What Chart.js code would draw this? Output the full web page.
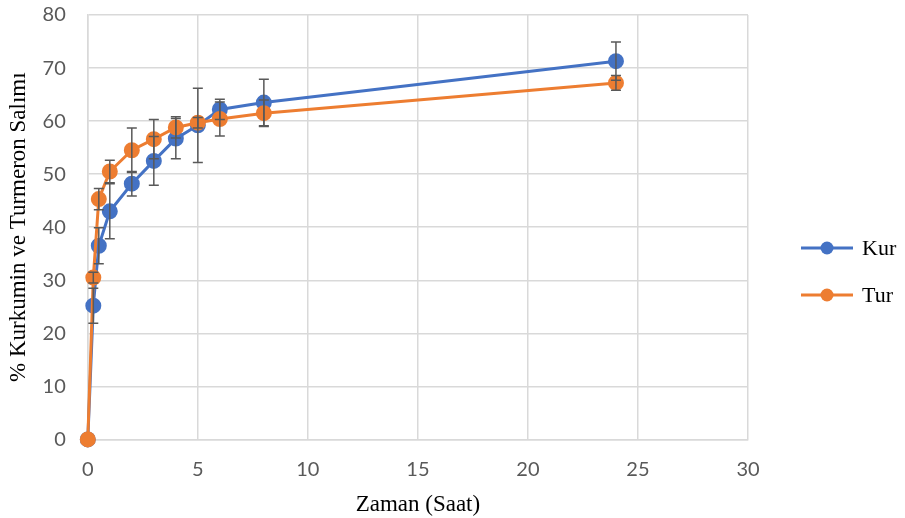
<!DOCTYPE html>
<html><head><meta charset="utf-8">
<script src="https://cdn.jsdelivr.net/npm/chart.js@4"></script>
<style>
html,body{margin:0;padding:0;background:#fff;}
#wrap{position:relative;width:905px;height:518px;}
#legend{position:absolute;left:800px;top:224px;font-family:"Liberation Serif","Times New Roman",serif;font-size:22px;color:#000;}
.item{display:flex;align-items:center;height:47px;}
.item svg{margin-right:8px;}
</style></head>
<body><div id="wrap"><canvas id="c" width="905" height="518"></canvas>
<div id="legend">
<div class="item"><svg width="54" height="16"><line x1="1" y1="8" x2="53" y2="8" stroke="#4472C4" stroke-width="3"/><circle cx="27" cy="8" r="6.5" fill="#4472C4"/></svg><span>Kur</span></div>
<div class="item"><svg width="54" height="16"><line x1="1" y1="8" x2="53" y2="8" stroke="#ED7D31" stroke-width="3"/><circle cx="27" cy="8" r="6.5" fill="#ED7D31"/></svg><span>Tur</span></div>
</div></div>
<script>
const times = [0, 0.25, 0.5, 1, 2, 3, 4, 5, 6, 8, 24];
const kurValues = [0, 25.2, 36.5, 43.0, 48.2, 52.5, 56.7, 59.2, 62.2, 63.5, 71.3];
const kurErrors = [0, 3.3, 3.4, 5.2, 2.3, 4.6, 3.8, 7.0, 1.9, 4.4, 3.6];
const turValues = [0, 30.5, 45.3, 50.5, 54.5, 56.6, 58.8, 59.7, 60.4, 61.5, 67.2];
const turErrors = [0, 1.0, 2.0, 2.1, 4.2, 3.7, 2.0, 1.0, 3.2, 2.5, 1.4];
const xTicks = [0, 5, 10, 15, 20, 25, 30];
const yTicks = [0, 10, 20, 30, 40, 50, 60, 70, 80];

const errorBarPlugin = {
  id: 'errorBars',
  afterDatasetsDraw(chart) {
    const ctx = chart.ctx;
    const xs = chart.scales.x, ys = chart.scales.y;
    chart.data.datasets.forEach(ds => {
      ctx.save();
      ctx.strokeStyle = '#595959';
      ctx.lineWidth = 1.5;
      ds.data.forEach((p, i) => {
        const e = ds.errors[i];
        if (!e) return;
        const px = xs.getPixelForValue(p.x);
        const top = ys.getPixelForValue(p.y + e);
        const bot = ys.getPixelForValue(p.y - e);
        ctx.beginPath();
        ctx.moveTo(px, top); ctx.lineTo(px, bot);
        ctx.moveTo(px - 5, top); ctx.lineTo(px + 5, top);
        ctx.moveTo(px - 5, bot); ctx.lineTo(px + 5, bot);
        ctx.stroke();
      });
      ctx.restore();
    });
  }
};

const mk = (vals) => times.map((t, i) => ({x: t, y: vals[i]}));

new Chart(document.getElementById('c'), {
  type: 'scatter',
  data: {
    datasets: [
      {label: 'Kur', order: 1, clip: false, data: mk(kurValues), errors: kurErrors, showLine: true, borderColor: '#4472C4', backgroundColor: '#4472C4', borderWidth: 3, pointRadius: 6.5, pointHoverRadius: 6.5, tension: 0},
      {label: 'Tur', order: 0, clip: false, data: mk(turValues), errors: turErrors, showLine: true, borderColor: '#ED7D31', backgroundColor: '#ED7D31', borderWidth: 3, pointRadius: 6.5, pointHoverRadius: 6.5, tension: 0}
    ]
  },
  options: {
    responsive: false,
    animation: false,
    layout: {autoPadding: false, padding: {left: 5, right: 157, top: 15, bottom: -1}},
    plugins: {legend: {display: false}, tooltip: {enabled: false}},
    scales: {
      x: {
        type: 'linear', min: 0, max: 30,
        afterBuildTicks: (s) => { s.ticks = xTicks.map(v => ({value: v})); },
        grid: {color: '#d9d9d9', lineWidth: 1.5, drawTicks: false},
        border: {color: '#d9d9d9', width: 1.5},
        ticks: {color: '#595959', font: {family: 'Lato, "Open Sans", sans-serif', size: 20}, padding: 18},
        title: {display: true, text: 'Zaman (Saat)', color: '#000', font: {family: '"Liberation Serif", "Times New Roman", serif', size: 23}, padding: {top: -8, bottom: 0}}
      },
      y: {
        type: 'linear', min: 0, max: 80,
        afterBuildTicks: (s) => { s.ticks = yTicks.map(v => ({value: v})); },
        afterFit: (s) => { s.paddingTop = 0; },
        grid: {color: '#d9d9d9', lineWidth: 1.5, drawTicks: false},
        border: {color: '#d9d9d9', width: 1.5},
        ticks: {color: '#595959', font: {family: 'Lato, "Open Sans", sans-serif', size: 20}, padding: 22},
        title: {display: true, text: '% Kurkumin ve Turmeron Salımı', color: '#000', font: {family: '"Liberation Serif", "Times New Roman", serif', size: 23}, padding: {top: 0, bottom: -12}}
      }
    }
  },
  plugins: [errorBarPlugin]
});
</script></body></html>
